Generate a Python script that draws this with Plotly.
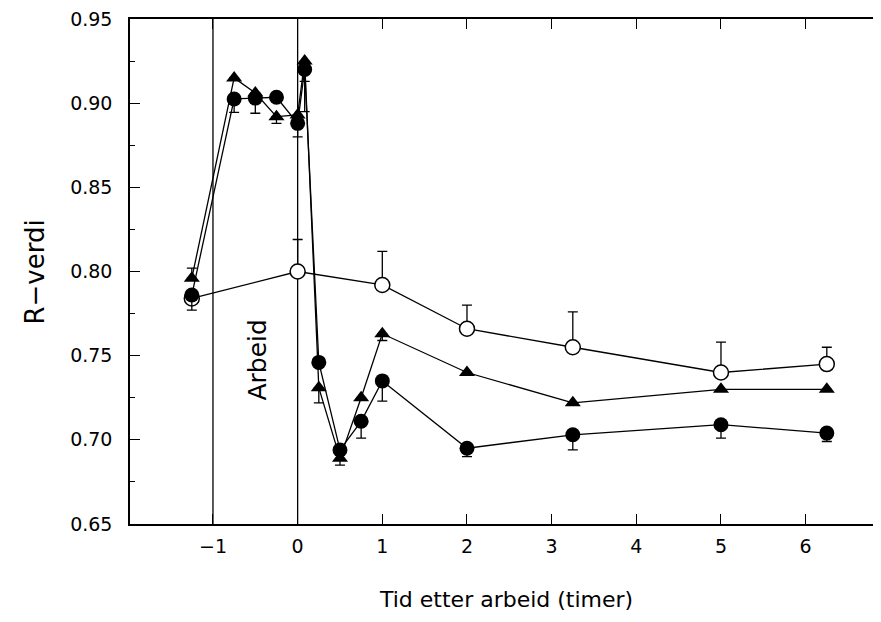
import plotly.graph_objects as go

# ---- data ----
x_main = [-1.25, -0.75, -0.5, -0.25, 0.0, 0.083, 0.25, 0.5, 0.75, 1.0, 2.0, 3.25, 5.0, 6.25]
filled_y = [0.786, 0.9025, 0.903, 0.9035, 0.888, 0.920, 0.746, 0.694, 0.711, 0.735, 0.695, 0.703, 0.709, 0.704]
filled_err_minus = [0.009, 0.008, 0.009, 0.0, 0.008, 0.007, 0.0, 0.0, 0.010, 0.012, 0.005, 0.009, 0.008, 0.005]
tri_y = [0.796, 0.915, 0.906, 0.892, 0.893, 0.925, 0.731, 0.689, 0.725, 0.763, 0.740, 0.722, 0.730, 0.730]
tri_err_plus = [0.006, 0, 0, 0, 0, 0, 0, 0, 0, 0, 0, 0, 0, 0]
tri_err_minus = [0, 0, 0, 0.004, 0, 0.030, 0.009, 0.004, 0, 0.004, 0, 0, 0, 0]
x_open = [-1.25, 0.0, 1.0, 2.0, 3.25, 5.0, 6.25]
open_y = [0.784, 0.800, 0.792, 0.766, 0.755, 0.740, 0.745]
open_err_plus = [0.0, 0.019, 0.020, 0.014, 0.021, 0.018, 0.010]

x_ticks = [-1, 0, 1, 2, 3, 4, 5, 6]
y_ticks = [0.65, 0.70, 0.75, 0.80, 0.85, 0.90, 0.95]
work_lines = [-1, 0]

FONT = "DejaVu Sans"
zeros = lambda n: [0] * n

fig = go.Figure()

fig.add_trace(go.Scatter(
    x=x_open, y=open_y, mode="lines+markers",
    line=dict(color="black", width=1.3),
    marker=dict(symbol="circle", size=15, color="white", line=dict(color="black", width=1.5)),
    error_y=dict(type="data", symmetric=False, array=open_err_plus, arrayminus=zeros(len(x_open)),
                 color="black", thickness=1.3, width=5),
    showlegend=False,
))
fig.add_trace(go.Scatter(
    x=x_main, y=tri_y, mode="lines+markers",
    line=dict(color="black", width=1.3),
    marker=dict(symbol="triangle-up", size=14, color="black"),
    error_y=dict(type="data", symmetric=False, array=tri_err_plus, arrayminus=tri_err_minus,
                 color="black", thickness=1.3, width=5),
    showlegend=False,
))
fig.add_trace(go.Scatter(
    x=x_main, y=filled_y, mode="lines+markers",
    line=dict(color="black", width=1.3),
    marker=dict(symbol="circle", size=15, color="black"),
    error_y=dict(type="data", symmetric=False, array=zeros(len(x_main)), arrayminus=filled_err_minus,
                 color="black", thickness=1.3, width=5),
    showlegend=False,
))

for xv in work_lines:
    fig.add_shape(type="line", xref="x", yref="paper", x0=xv, x1=xv, y0=0, y1=1,
                  line=dict(color="black", width=1.3), layer="below")

fig.add_annotation(x=-0.47, y=0.7476, xref="x", yref="y", text="Arbeid", showarrow=False,
                   textangle=-90, font=dict(family=FONT, size=25, color="black"))
fig.add_annotation(x=0.5, y=-0.15, xref="paper", yref="paper", text="Tid etter arbeid (timer)",
                   showarrow=False, xanchor="center", yanchor="middle",
                   font=dict(family=FONT, size=22, color="black"))
fig.add_annotation(x=-0.1265, y=0.5, xref="paper", yref="paper", text="R\u2212verdi",
                   showarrow=False, textangle=-90, xanchor="center", yanchor="middle",
                   font=dict(family=FONT, size=26, color="black"))

fig.update_layout(
    width=873, height=614,
    margin=dict(l=122, r=0, t=9, b=98),
    paper_bgcolor="white", plot_bgcolor="white",
    font=dict(family=FONT, size=19, color="black"),
)
fig.update_xaxes(
    range=[-1.98, 6.89], tickvals=x_ticks, ticktext=[("\u2212" + str(-v)) if v < 0 else str(v) for v in x_ticks],
    ticks="inside", ticklen=10, tickwidth=1.3, tickcolor="black",
    showline=True, linecolor="black", linewidth=1.5, mirror="ticks",
    showgrid=False, zeroline=False, ticklabelstandoff=4, ticklabeloverflow="allow",
    tickfont=dict(family=FONT, size=19),
)
fig.update_yaxes(
    range=[0.65, 0.95], tickvals=y_ticks, tickformat=".2f",
    ticks="inside", ticklen=10, tickwidth=1.3, tickcolor="black",
    minor=dict(dtick=0.025, ticks="inside", ticklen=5, tickwidth=1.2, tickcolor="black", showgrid=False),
    showline=True, linecolor="black", linewidth=1.5,
    showgrid=False, zeroline=False, ticklabelstandoff=12, ticklabeloverflow="allow",
    tickfont=dict(family=FONT, size=19),
)

fig.write_html("out.html")
